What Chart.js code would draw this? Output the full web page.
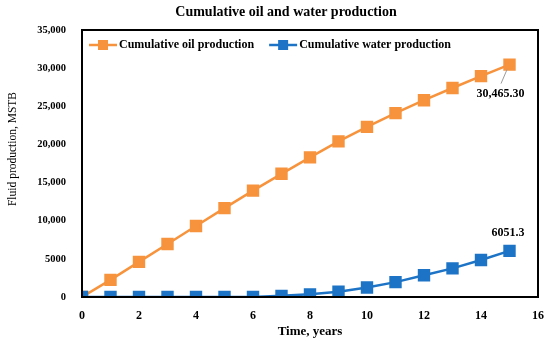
<!DOCTYPE html>
<html>
<head>
<meta charset="utf-8">
<script src="https://cdn.jsdelivr.net/npm/chart.js@4.4.1/dist/chart.umd.min.js"></script>
<style>
  html, body { margin: 0; padding: 0; background: #fff; }
  #wrap { width: 550px; height: 341px; }
</style>
</head>
<body>
<div id="wrap"><canvas id="chart"></canvas></div>
<script>
const years = [0, 1, 2, 3, 4, 5, 6, 7, 8, 9, 10, 11, 12, 13, 14, 15];
const oilProduction = [0, 2250, 4600, 6950, 9300, 11650, 13950, 16150, 18300, 20400, 22300, 24100, 25800, 27400, 28950, 30465.3];
const waterProduction = [0, 0, 0, 0, 0, 0, 0, 150, 350, 700, 1250, 1950, 2850, 3750, 4850, 6051.3];
const yTicks = [0, 5000, 10000, 15000, 20000, 25000, 30000, 35000];
const xTicks = [0, 2, 4, 6, 8, 10, 12, 14, 16];
const oilLabel = "30,465.30";
const waterLabel = "6051.3";
const chartTitle = "Cumulative oil and water production";
const yTitle = "Fluid production, MSTB";

const ORANGE = "#F7933C";
const BLUE = "#1D74C6";
const FONT = "'Liberation Serif', 'Times New Roman', serif";

// title, y title, frame, legend and end-point labels
const decorations = {
  id: "decorations",
  afterDatasetsDraw(chart) {
    const { ctx, chartArea } = chart;
    ctx.save();
    ctx.strokeStyle = "#000";
    ctx.lineWidth = 2;
    ctx.strokeRect(chartArea.left, chartArea.top, chartArea.right - chartArea.left, chartArea.bottom - chartArea.top);

    ctx.fillStyle = "#000";
    ctx.textBaseline = "middle";
    ctx.textAlign = "center";
    ctx.font = "bold 14px " + FONT;
    ctx.fillText(chartTitle, chartArea.left + 204, 12);

    ctx.save();
    ctx.translate(13, chartArea.top + 119);
    ctx.rotate(-Math.PI / 2);
    ctx.font = "11.5px " + FONT;
    ctx.fillText(yTitle, 0, 0);
    ctx.restore();

    // legend
    ctx.font = "bold 12px " + FONT;
    ctx.textAlign = "left";
    let lx = chartArea.left + 7;
    const ly = chartArea.top + 15;
    chart.data.datasets.forEach((ds) => {
      ctx.strokeStyle = ds.borderColor;
      ctx.lineWidth = 2.5;
      ctx.beginPath();
      ctx.moveTo(lx, ly);
      ctx.lineTo(lx + 28, ly);
      ctx.stroke();
      ctx.fillStyle = ds.borderColor;
      ctx.fillRect(lx + 9, ly - 5, 10, 10);
      ctx.fillStyle = "#000";
      ctx.fillText(ds.label, lx + 30, ly);
      lx += 30 + ctx.measureText(ds.label).width + 15;
    });

    // end-point labels
    const oilPt = chart.getDatasetMeta(0).data[oilProduction.length - 1];
    const waterPt = chart.getDatasetMeta(1).data[waterProduction.length - 1];
    ctx.strokeStyle = "#9a9a9a";
    ctx.lineWidth = 1;
    ctx.beginPath();
    ctx.moveTo(oilPt.x - 2.5, oilPt.y + 5);
    ctx.lineTo(oilPt.x - 8.5, oilPt.y + 19);
    ctx.stroke();
    ctx.fillStyle = "#000";
    ctx.font = "bold 12px " + FONT;
    ctx.textAlign = "center";
    ctx.fillText(oilLabel, oilPt.x - 9, oilPt.y + 29);
    ctx.fillText(waterLabel, waterPt.x - 1.5, waterPt.y - 18);
    ctx.restore();
  },
};

const datasets = [
  {
    label: "Cumulative oil production",
    data: years.map((x, i) => ({ x, y: oilProduction[i] })),
    borderColor: ORANGE,
    backgroundColor: ORANGE,
    borderWidth: 2.5,
    pointStyle: "rect",
    pointRadius: 7,
    pointHoverRadius: 7,
    order: 2,
  },
  {
    label: "Cumulative water production",
    data: years.map((x, i) => ({ x, y: waterProduction[i] })),
    borderColor: BLUE,
    backgroundColor: BLUE,
    borderWidth: 2.5,
    pointStyle: "rect",
    pointRadius: 7,
    pointHoverRadius: 7,
    order: 1,
  },
];

new Chart(document.getElementById("chart"), {
  type: "line",
  data: { datasets },
  plugins: [decorations],
  options: {
    responsive: true,
    maintainAspectRatio: false,
    animation: false,
    layout: { padding: { left: 6, right: 12, top: 30, bottom: 2 } },
    plugins: {
      tooltip: { enabled: false },
      title: { display: false },
      legend: { display: false },
    },
    scales: {
      x: {
        type: "linear",
        min: 0,
        max: 16,
        afterBuildTicks(scale) {
          scale.ticks = xTicks.map((v) => ({ value: v }));
        },
        grid: { display: false },
        border: { display: false },
        ticks: {
          color: "#000",
          padding: 4,
          font: { family: FONT, size: 12, weight: "bold" },
        },
        title: {
          display: true,
          text: "Time, years",
          color: "#000",
          padding: { top: 0, bottom: 0 },
          font: { family: FONT, size: 13, weight: "bold" },
        },
        afterFit(scale) {
          scale.height = 42;
        },
      },
      y: {
        min: 0,
        max: 35000,
        afterBuildTicks(scale) {
          scale.ticks = yTicks.map((v) => ({ value: v }));
        },
        grid: { display: false },
        border: { display: false },
        ticks: {
          color: "#000",
          padding: 8,
          font: { family: FONT, size: 10.5, weight: "bold" },
          callback: (v) => (v >= 10000 ? v.toLocaleString("en-US") : String(v)),
        },
        afterFit(scale) {
          scale.width = 76;
        },
      },
    },
  },
});
</script>
</body>
</html>
